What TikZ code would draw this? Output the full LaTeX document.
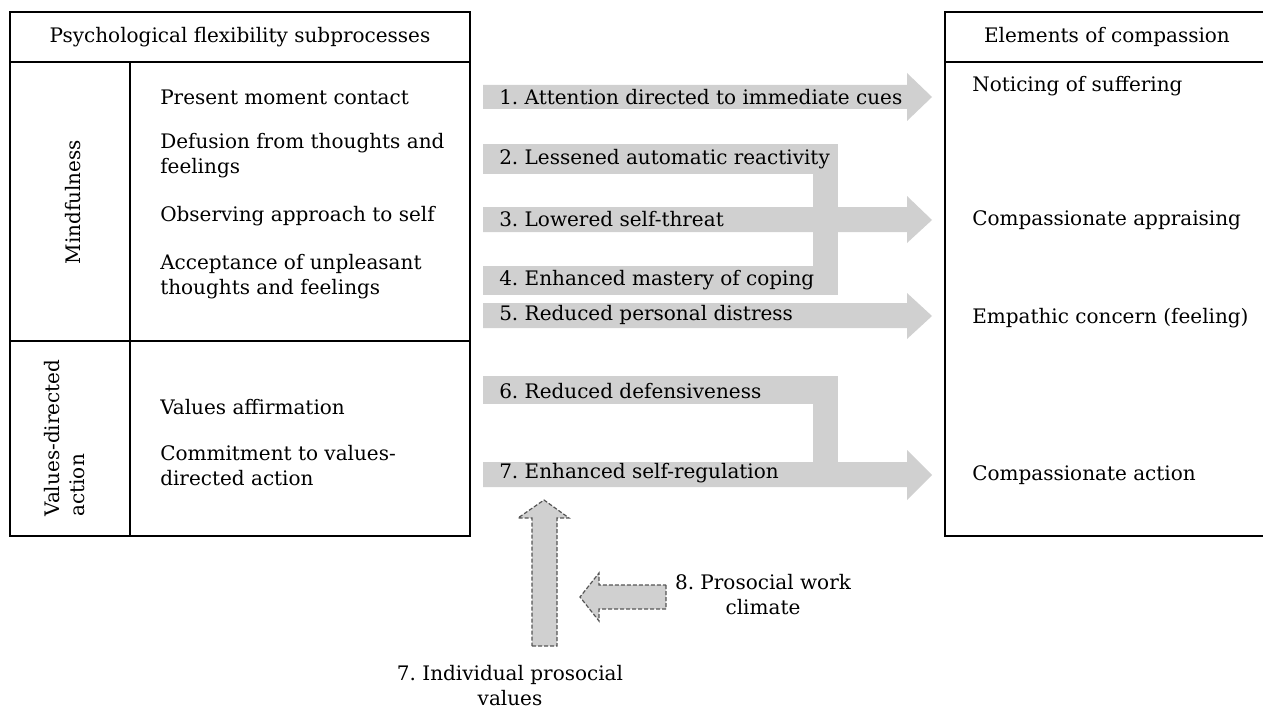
\documentclass[tikz,border=0pt]{standalone}
\usepackage{fontspec}
\setmainfont{DejaVu Serif}
\newcommand{\figfont}{\fontsize{15}{18.75}\selectfont\frenchspacing}

\begin{document}
\begin{tikzpicture}[x=0.75pt,y=0.75pt,yscale=-1,xscale=1,
  frame/.style={line width=1.5},
  grayarrow/.style={fill={rgb, 255:red, 208; green, 208; blue, 208 }},
  dasharrow/.style={fill={rgb, 255:red, 208; green, 208; blue, 208 },draw={rgb, 255:red, 85; green, 85; blue, 85 },line width=0.9,dash pattern=on 3pt off 1.5pt},
  txt/.style={inner sep=0.75pt,font=\figfont}]
\useasboundingbox (0,0) rectangle (1263,713);

%Shape: Rectangle [id:left table]
\draw [frame] (10,12) rectangle (470,536) ;
\draw [frame] (10,62) -- (470,62) ;
\draw [frame] (130,62) -- (130,536) ;
\draw [frame] (10,341) -- (470,341) ;
%Shape: Rectangle [id:right table]
\draw [frame] (945,12) rectangle (1269,536) ;
\draw [frame] (945,62) -- (1269,62) ;

%Shape: Right Arrow [id:arrow 1]
\fill [grayarrow] (483,85) -- (907,85) -- (907,73) -- (932,97) -- (907,121) -- (907,109) -- (483,109) -- cycle ;
%Shape: Rectangle [id:box 2]
\fill [grayarrow] (483,144) rectangle (838,174) ;
%Shape: Rectangle [id:bar 2-4]
\fill [grayarrow] (813,144) rectangle (838,295) ;
%Shape: Rectangle [id:box 4]
\fill [grayarrow] (483,266) rectangle (838,295) ;
%Shape: Right Arrow [id:arrow 3]
\fill [grayarrow] (483,207) -- (907,207) -- (907,196) -- (932,220) -- (907,243) -- (907,232) -- (483,232) -- cycle ;
%Shape: Right Arrow [id:arrow 5]
\fill [grayarrow] (483,303) -- (907,303) -- (907,293) -- (932,316) -- (907,339) -- (907,328) -- (483,328) -- cycle ;
%Shape: Rectangle [id:box 6]
\fill [grayarrow] (483,376) rectangle (838,404) ;
%Shape: Rectangle [id:bar 6-7]
\fill [grayarrow] (813,376) rectangle (838,487) ;
%Shape: Right Arrow [id:arrow 7]
\fill [grayarrow] (483,462) -- (907,462) -- (907,450) -- (932,475) -- (907,500) -- (907,487) -- (483,487) -- cycle ;

%Shape: Up Arrow [id:individual values]
\draw [dasharrow] (532,646) -- (557,646) -- (557,518) -- (569,518) -- (544,500) -- (518,518) -- (532,518) -- cycle ;
%Shape: Left Arrow [id:work climate]
\draw [dasharrow] (666,585) -- (666,609) -- (599,609) -- (599,621) -- (580,597) -- (599,573) -- (599,585) -- cycle ;

% Text Node
\draw (240,37) node [txt] (psyflex) {Psychological flexibility subprocesses};
% Text Node
\draw (73,202) node [txt,rotate=90] (mindful) {Mindfulness};
% Text Node
\draw (65,438) node [txt,rotate=90,align=left] (valdir) {Values-directed\\action};
% Text Node
\draw (159,97) node [txt,anchor=west] (present) {Present moment contact};
% Text Node
\draw (159,156) node [txt,anchor=west,align=left] (defusion) {Defusion from thoughts and\\feelings};
% Text Node
\draw (159,216) node [txt,anchor=west] (observing) {Observing approach to self};
% Text Node
\draw (159,277) node [txt,anchor=west,align=left] (accept) {Acceptance of unpleasant\\thoughts and feelings};
% Text Node
\draw (159,407) node [txt,anchor=west] (affirm) {Values affirmation};
% Text Node
\draw (159,466) node [txt,anchor=west,align=left] (commit) {Commitment to values-\\directed action};

% Text Node
\draw (498,97) node [txt,anchor=west] (attention) {1. Attention directed to immediate cues};
% Text Node
\draw (498,159) node [txt,anchor=west] (reactivity) {2. Lessened automatic reactivity};
% Text Node
\draw (498,219) node [txt,anchor=west] (selfthreat) {3. Lowered self-threat};
% Text Node
\draw (498,280) node [txt,anchor=west] (coping) {4. Enhanced mastery of coping};
% Text Node
\draw (498,315) node [txt,anchor=west] (distress) {5. Reduced personal distress};
% Text Node
\draw (498,391) node [txt,anchor=west] (defensive) {6. Reduced defensiveness};
% Text Node
\draw (498,473) node [txt,anchor=west] (selfreg) {7. Enhanced self-regulation};

% Text Node
\draw (763,595) node [txt,align=center] (climate) {8. Prosocial work\\climate};
% Text Node
\draw (510,686) node [txt,align=center] (prosocial) {7. Individual prosocial\\values};

% Text Node
\draw (1107,37) node [txt] (compassion) {Elements of compassion};
% Text Node
\draw (971,86) node [txt,anchor=west] (noticing) {Noticing of suffering};
% Text Node
\draw (971,220) node [txt,anchor=west] (appraising) {Compassionate appraising};
% Text Node
\draw (971,318) node [txt,anchor=west] (empathic) {Empathic concern (feeling)};
% Text Node
\draw (971,475) node [txt,anchor=west] (action) {Compassionate action};

\end{tikzpicture}
\end{document}
